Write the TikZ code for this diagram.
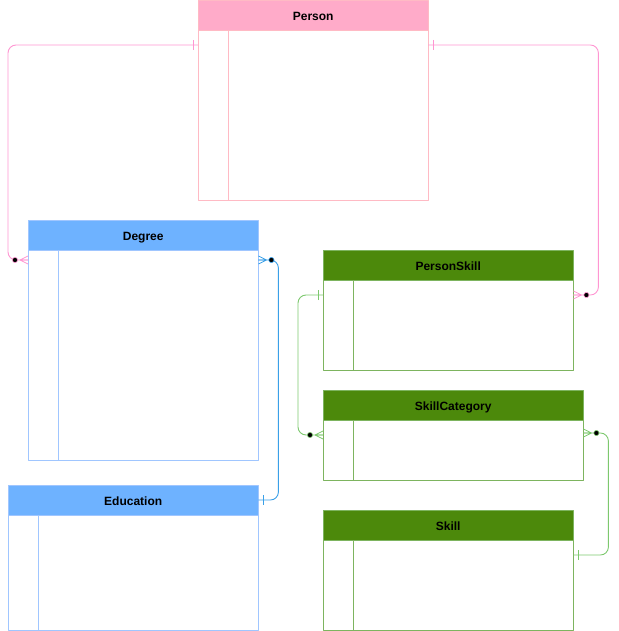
\documentclass[tikz,border=0pt]{standalone}
\usepackage{fontspec}
\setmainfont{Liberation Sans}
\usetikzlibrary{positioning,calc}
\definecolor{pinkhead}{RGB}{255,171,201}
\definecolor{pinkedge}{RGB}{255,186,196}
\definecolor{pinkwire}{RGB}{255,150,210}
\definecolor{bluehead}{RGB}{110,178,255}
\definecolor{blueedge}{RGB}{160,198,255}
\definecolor{bluewire}{RGB}{58,160,232}
\definecolor{greenhead}{RGB}{76,137,11}
\definecolor{greenedge}{RGB}{125,180,95}
\definecolor{greenwire}{RGB}{125,200,110}
\tikzset{
  tablehead/.style={draw, anchor=north west, minimum height=30pt, inner sep=0pt,
    text height=10pt, text depth=0pt,
    font=\fontsize{12}{14}\selectfont\bfseries, text=black},
  tablebody/.style={draw, below=0pt of #1, inner sep=0pt, fill=white},
  wire/.style={line width=0.9pt, rounded corners=8pt},
  pics/many/.style={code={
    \draw[line width=0.8pt] (0,-4)--(8,0) (0,0)--(8,0) (0,4)--(8,0);
    \fill[black, draw=#1, line width=0.6pt] (13,0) circle (2.6pt);}},
  pics/one/.style={code={
    \draw[line width=0.8pt] (5,-5)--(5,5);}}
}
\begin{document}
\begin{tikzpicture}[x=1pt, y=-1pt, line join=round]
  \useasboundingbox (0,0) rectangle (618,631);
  % tables
  \node[tablehead, fill=pinkhead, draw=pinkedge, minimum width=230pt] (person) at (198,0) {Person};
  \node[tablebody=person, draw=pinkedge, minimum width=230pt, minimum height=170pt] (personbody) {};
  \node[tablehead, fill=bluehead, draw=blueedge, minimum width=230pt] (degree) at (28,220) {Degree};
  \node[tablebody=degree, draw=blueedge, minimum width=230pt, minimum height=210pt] (degreebody) {};
  \node[tablehead, fill=bluehead, draw=blueedge, minimum width=250pt] (education) at (8,485) {Education};
  \node[tablebody=education, draw=blueedge, minimum width=250pt, minimum height=115pt] (educationbody) {};
  \node[tablehead, fill=greenhead, draw=greenedge, minimum width=250pt] (personskill) at (323,250) {PersonSkill};
  \node[tablebody=personskill, draw=greenedge, minimum width=250pt, minimum height=90pt] (personskillbody) {};
  \node[tablehead, fill=greenhead, draw=greenedge, minimum width=260pt] (skillcat) at (323,390) {SkillCategory};
  \node[tablebody=skillcat, draw=greenedge, minimum width=260pt, minimum height=60pt] (skillcatbody) {};
  \node[tablehead, fill=greenhead, draw=greenedge, minimum width=250pt] (skill) at (323,510) {Skill};
  \node[tablebody=skill, draw=greenedge, minimum width=250pt, minimum height=90pt] (skillbody) {};
  % key columns
  \foreach \t/\c in {personbody/pinkedge, degreebody/blueedge, educationbody/blueedge,
                     personskillbody/greenedge, skillcatbody/greenedge, skillbody/greenedge}
    \draw[\c] ($(\t.north west)+(30,0)$) -- ($(\t.south west)+(30,0)$);
  % attach points
  \coordinate (personL) at ($(person.north west)+(0,45)$);
  \coordinate (personR) at ($(person.north east)+(0,45)$);
  \coordinate (degreeL) at ($(degree.north west)+(0,40)$);
  \coordinate (degreeR) at ($(degree.north east)+(0,40)$);
  \coordinate (educationR) at ($(education.north east)+(0,15)$);
  \coordinate (personskillL) at ($(personskill.north west)+(0,45)$);
  \coordinate (personskillR) at ($(personskill.north east)+(0,45)$);
  \coordinate (skillcatL) at ($(skillcat.north west)+(0,45)$);
  \coordinate (skillcatR) at ($(skillcat.north east)+(0,43)$);
  \coordinate (skillR) at ($(skill.north east)+(0,45)$);
  % relations
  \draw[wire, pinkwire] (personL) -| ($(degreeL)+(-20,0)$) -- (degreeL);
  \draw[wire, pinkwire] (personR) -| ($(personskillR)+(25,0)$) -- (personskillR);
  \draw[wire, bluewire] (degreeR) -| ($(educationR)+(20,0)$) -- (educationR);
  \draw[wire, greenwire] (personskillL) -| ($(skillcatL)+(-25,0)$) -- (skillcatL);
  \draw[wire, greenwire] (skillcatR) -| ($(skillR)+(35,0)$) -- (skillR);
  % ends
  \pic[pinkwire, rotate=180] at (personL) {one};
  \pic[pinkwire] at (personR) {one};
  \pic[pinkwire, rotate=180] at (degreeL) {many=pinkwire};
  \pic[pinkwire] at (personskillR) {many=pinkwire};
  \pic[bluewire] at (degreeR) {many=bluewire};
  \pic[bluewire] at (educationR) {one};
  \pic[greenwire, rotate=180] at (personskillL) {one};
  \pic[greenwire, rotate=180] at (skillcatL) {many=greenwire};
  \pic[greenwire] at (skillcatR) {many=greenwire};
  \pic[greenwire] at (skillR) {one};
\end{tikzpicture}
\end{document}
